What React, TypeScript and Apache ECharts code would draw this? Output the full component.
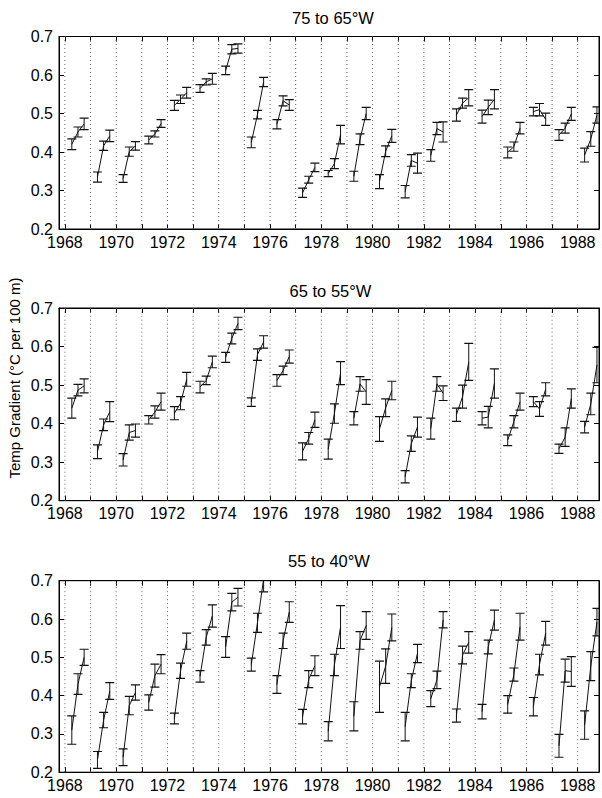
import React, { useEffect, useRef } from "react";
import * as echarts from "echarts";

// ---------- data ----------
const YEARS = [1968, 1969, 1970, 1971, 1972, 1973, 1974, 1975, 1976, 1977, 1978, 1979, 1980, 1981, 1982, 1983, 1984, 1985, 1986, 1987, 1988];
const LABEL_YEARS = [1968, 1970, 1972, 1974, 1976, 1978, 1980, 1982, 1984, 1986, 1988];
const SEASON_OFFSETS = [0.27, 0.51, 0.75];
const PANEL_TITLES = ["75 to 65°W", "65 to 55°W", "55 to 40°W"];
const Y_AXIS_NAME = "Temp Gradient (°C per 100 m)";

const P1_VALUES = [
  [0.420, 0.452, 0.473], [0.335, 0.416, 0.442], [0.331, 0.401, 0.416], [0.431, 0.447, 0.474],
  [0.521, 0.537, 0.554], [0.565, 0.582, 0.590], [0.612, 0.667, 0.669], [0.425, 0.497, 0.582],
  [0.472, 0.533, 0.522], [0.294, 0.328, 0.360], [0.344, 0.370, 0.445], [0.337, 0.433, 0.500],
  [0.323, 0.402, 0.442], [0.297, 0.378, 0.371], [0.391, 0.461, 0.452], [0.496, 0.527, 0.541],
  [0.492, 0.516, 0.537], [0.399, 0.414, 0.462], [0.505, 0.510, 0.485], [0.444, 0.462, 0.499],
  [0.392, 0.434, 0.496],
];
const P1_ERRORS = [
  [0.014, 0.013, 0.015], [0.013, 0.012, 0.015], [0.010, 0.012, 0.011], [0.010, 0.008, 0.010],
  [0.013, 0.011, 0.014], [0.010, 0.008, 0.014], [0.011, 0.012, 0.012], [0.014, 0.011, 0.012],
  [0.012, 0.013, 0.014], [0.012, 0.009, 0.011], [0.008, 0.013, 0.024], [0.013, 0.014, 0.016],
  [0.018, 0.014, 0.017], [0.016, 0.015, 0.026], [0.015, 0.016, 0.026], [0.016, 0.013, 0.021],
  [0.017, 0.019, 0.025], [0.014, 0.012, 0.015], [0.011, 0.016, 0.016], [0.014, 0.013, 0.017],
  [0.018, 0.019, 0.021],
];

const P2_VALUES = [
  [0.440, 0.487, 0.498], [0.327, 0.397, 0.431], [0.306, 0.377, 0.382], [0.410, 0.430, 0.457],
  [0.427, 0.453, 0.515], [0.495, 0.512, 0.560], [0.572, 0.621, 0.660], [0.456, 0.579, 0.612],
  [0.512, 0.538, 0.574], [0.328, 0.362, 0.410], [0.334, 0.426, 0.531], [0.414, 0.503, 0.482],
  [0.386, 0.441, 0.486], [0.262, 0.348, 0.391], [0.387, 0.503, 0.479], [0.423, 0.470, 0.560],
  [0.414, 0.417, 0.504], [0.357, 0.405, 0.457], [0.457, 0.438, 0.489], [0.335, 0.365, 0.465],
  [0.391, 0.451, 0.552],
];
const P2_ERRORS = [
  [0.026, 0.015, 0.018], [0.018, 0.015, 0.026], [0.016, 0.020, 0.017], [0.011, 0.016, 0.022],
  [0.017, 0.017, 0.018], [0.015, 0.011, 0.015], [0.013, 0.014, 0.016], [0.011, 0.015, 0.016],
  [0.015, 0.011, 0.017], [0.022, 0.015, 0.020], [0.026, 0.025, 0.030], [0.017, 0.019, 0.032],
  [0.032, 0.023, 0.024], [0.016, 0.020, 0.026], [0.027, 0.019, 0.019], [0.017, 0.030, 0.048],
  [0.017, 0.028, 0.038], [0.014, 0.016, 0.022], [0.013, 0.019, 0.017], [0.012, 0.024, 0.025],
  [0.015, 0.028, 0.046],
];

const P3_VALUES = [
  [0.310, 0.430, 0.500], [0.232, 0.336, 0.412], [0.239, 0.374, 0.408], [0.382, 0.452, 0.482],
  [0.340, 0.465, 0.542], [0.450, 0.552, 0.608], [0.527, 0.644, 0.657], [0.481, 0.590, 0.705],
  [0.429, 0.543, 0.618], [0.345, 0.443, 0.478], [0.307, 0.480, 0.579], [0.346, 0.544, 0.583],
  [0.423, 0.477, 0.578], [0.319, 0.439, 0.510], [0.392, 0.441, 0.598], [0.348, 0.506, 0.539],
  [0.358, 0.527, 0.597], [0.377, 0.455, 0.580], [0.371, 0.481, 0.563], [0.269, 0.465, 0.463],
  [0.323, 0.477, 0.592],
];
const P3_ERRORS = [
  [0.037, 0.027, 0.021], [0.022, 0.020, 0.022], [0.022, 0.024, 0.020], [0.020, 0.030, 0.025],
  [0.014, 0.020, 0.021], [0.015, 0.020, 0.029], [0.027, 0.023, 0.023], [0.017, 0.025, 0.034],
  [0.023, 0.020, 0.027], [0.019, 0.022, 0.026], [0.025, 0.028, 0.056], [0.038, 0.023, 0.036],
  [0.067, 0.045, 0.035], [0.037, 0.018, 0.024], [0.021, 0.023, 0.021], [0.017, 0.023, 0.028],
  [0.019, 0.018, 0.026], [0.023, 0.017, 0.035], [0.024, 0.027, 0.031], [0.030, 0.030, 0.039],
  [0.037, 0.038, 0.036],
];

const PANELS = [
  { values: P1_VALUES, errors: P1_ERRORS },
  { values: P2_VALUES, errors: P2_ERRORS },
  { values: P3_VALUES, errors: P3_ERRORS },
];

// ---------- layout / style ----------
const X_MIN = 1967.77;
const X_MAX = 1988.83;
const Y_MIN = 0.2;
const Y_MAX = 0.7;
const Y_INTERVAL = 0.1;
const GRID_LAYOUT = [
  { top: 36.5, height: 192.5 },
  { top: 308, height: 192.7 },
  { top: 580.7, height: 191.5 },
];
const TITLE_POS = [
  { x: 333, y: 18 },
  { x: 330.5, y: 291 },
  { x: 329, y: 561 },
];
const FONT = '"Liberation Sans", Arial, Helvetica, sans-serif';
const INK = "#111";
const CAP = 4.5;

function makeErrorRender() {
  return (params: any, api: any) => {
    const year = api.value(0);
    const cs = params.coordSys;
    const pts: number[][] = [];
    const children: any[] = [];
    for (let k = 0; k < 3; k++) {
      const v = api.value(1 + k);
      const e = api.value(4 + k);
      const x = year + SEASON_OFFSETS[k];
      const c = api.coord([x, v]);
      const loV = v - e;
      const hiV = v + e;
      const lo = api.coord([x, Math.max(loV, Y_MIN)]);
      const hi = api.coord([x, Math.min(hiV, Y_MAX)]);
      pts.push(c);
      children.push({
        type: "line",
        shape: { x1: c[0], y1: lo[1], x2: c[0], y2: hi[1] },
        style: { stroke: INK, lineWidth: 1 },
      });
      if (loV >= Y_MIN) {
        children.push({
          type: "line",
          shape: { x1: c[0] - CAP, y1: lo[1], x2: c[0] + CAP, y2: lo[1] },
          style: { stroke: INK, lineWidth: 1.2 },
        });
      }
      if (hiV <= Y_MAX) {
        children.push({
          type: "line",
          shape: { x1: c[0] - CAP, y1: hi[1], x2: c[0] + CAP, y2: hi[1] },
          style: { stroke: INK, lineWidth: 1.2 },
        });
      }
    }
    children.unshift({
      type: "polyline",
      shape: { points: pts },
      style: { stroke: INK, lineWidth: 1, fill: "none" },
    });
    return {
      type: "group",
      clipPath: { type: "rect", shape: { x: cs.x, y: cs.y, width: cs.width, height: cs.height } },
      children,
    };
  };
}

function yearLineRender(params: any, api: any) {
  const y = api.value(0);
  const a = api.coord([y, Y_MIN]);
  const b = api.coord([y, Y_MAX]);
  return {
    type: "line",
    shape: { x1: a[0], y1: a[1], x2: b[0], y2: b[1] },
    style: { stroke: "#666", lineWidth: 1, lineDash: [1, 3] },
  };
}

function buildOption() {
  const grid: any[] = [];
  const xAxis: any[] = [];
  const yAxis: any[] = [];
  const series: any[] = [];
  const graphic: any[] = [];

  PANELS.forEach((panel, i) => {
    const g = GRID_LAYOUT[i];
    grid.push({
      left: 59,
      right: 3,
      top: g.top,
      height: g.height,
      show: true,
      borderColor: "#000",
      borderWidth: 1,
      backgroundColor: "#fff",
    });
    const axisCommon = {
      type: "value",
      gridIndex: i,
      min: X_MIN,
      max: X_MAX,
      splitLine: { show: false },
      axisLine: { show: true, onZero: false, lineStyle: { color: "#000", width: 1 } },
      axisTick: { show: true, inside: true, length: 5, customValues: YEARS, lineStyle: { color: "#000" } },
    };
    xAxis.push({
      ...axisCommon,
      position: "bottom",
      axisLabel: {
        show: true,
        customValues: LABEL_YEARS,
        formatter: (v: number) => String(Math.round(v)),
        fontSize: 16,
        fontFamily: FONT,
        color: "#000",
        margin: 5,
      },
    });
    xAxis.push({
      ...axisCommon,
      position: "top",
      axisLabel: { show: false },
    });
    const yCommon = {
      type: "value",
      gridIndex: i,
      min: Y_MIN,
      max: Y_MAX,
      interval: Y_INTERVAL,
      splitLine: { show: false },
      axisLine: { show: true, onZero: false, lineStyle: { color: "#000", width: 1 } },
      axisTick: { show: true, inside: true, length: 5, lineStyle: { color: "#000" } },
    };
    yAxis.push({
      ...yCommon,
      position: "left",
      axisLabel: {
        show: true,
        formatter: (v: number) => v.toFixed(1),
        fontSize: 16,
        fontFamily: FONT,
        color: "#000",
        margin: 6,
      },
    });
    yAxis.push({
      ...yCommon,
      position: "right",
      axisLabel: { show: false },
    });

    series.push({
      type: "custom",
      name: "years" + i,
      xAxisIndex: i * 2,
      yAxisIndex: i * 2,
      renderItem: yearLineRender,
      data: YEARS.map((y) => [y]),
      encode: { x: 0 },
      silent: true,
      z: 1,
    });
    series.push({
      type: "custom",
      name: PANEL_TITLES[i],
      xAxisIndex: i * 2,
      yAxisIndex: i * 2,
      renderItem: makeErrorRender(),
      data: YEARS.map((y, j) => [y, ...panel.values[j], ...panel.errors[j]]),
      encode: { x: 0, y: [1, 2, 3] },
      z: 3,
    });

    graphic.push({
      type: "text",
      x: TITLE_POS[i].x,
      y: TITLE_POS[i].y,
      style: {
        text: PANEL_TITLES[i],
        font: `16.5px ${FONT}`,
        fill: "#000",
        textAlign: "center",
        textVerticalAlign: "middle",
      },
    });
  });

  graphic.push({
    type: "text",
    x: 14,
    y: 378,
    rotation: Math.PI / 2,
    style: {
      text: Y_AXIS_NAME,
      font: `15px ${FONT}`,
      fill: "#000",
      textAlign: "center",
      textVerticalAlign: "middle",
    },
  });

  return {
    animation: false,
    backgroundColor: "#fff",
    grid,
    xAxis,
    yAxis,
    series,
    graphic,
  };
}

export default function App() {
  const ref = useRef<HTMLDivElement>(null);
  useEffect(() => {
    document.body.style.margin = "0";
    if (!ref.current) return;
    const chart = echarts.init(ref.current, undefined, { renderer: "svg" });
    chart.setOption(buildOption() as any);
    return () => {
      chart.dispose();
    };
  }, []);
  return <div ref={ref} style={{ width: 602, height: 798 }} />;
}
